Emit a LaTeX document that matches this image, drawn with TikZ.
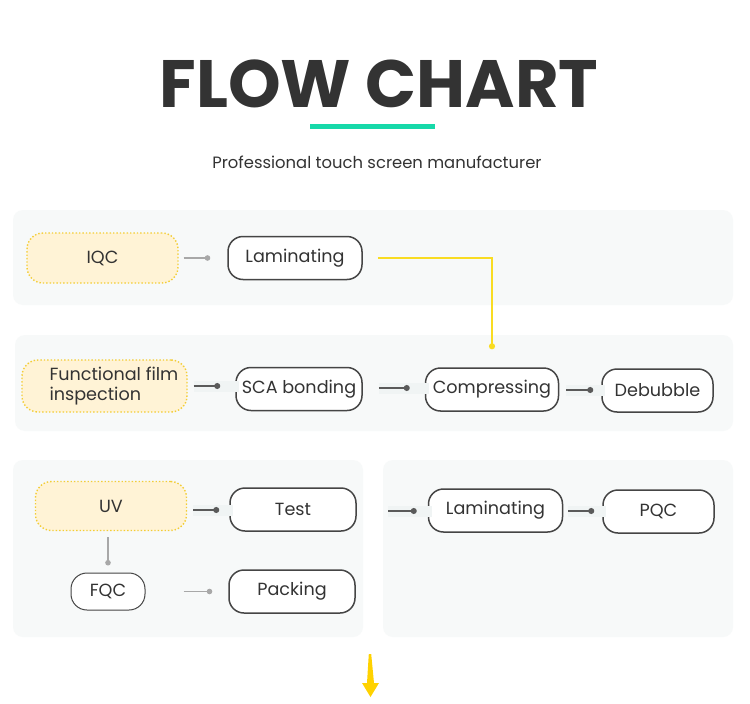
\documentclass[tikz,border=0pt]{standalone}
\usepackage{fontspec}
\setmainfont{Poppins}
\usetikzlibrary{arrows.meta}
\definecolor{textc}{HTML}{333333}
\definecolor{panelc}{HTML}{F7F9F9}
\definecolor{bordc}{HTML}{454545}
\definecolor{ybord}{HTML}{F3CD36}
\definecolor{yfill}{HTML}{FFF3D6}
\definecolor{ylinec}{HTML}{F9DC22}
\definecolor{arrowc}{HTML}{FFD200}
\definecolor{tealc}{HTML}{16D9A9}
\definecolor{conndark}{HTML}{5A5A5A}
\definecolor{connlight}{HTML}{A8A8A8}
\definecolor{stripc}{HTML}{F0F4F4}
\tikzset{
  panel/.style={fill=panelc, draw=none, rounded corners=10pt},
  stepbox/.style={draw=bordc, line width=1.5pt, fill=white, rounded corners=15pt,
    inner sep=0pt, text=textc, font=\fontsize{17.6}{21}\selectfont},
  ybox/.style={draw=ybord, line width=1.4pt, dotted, fill=yfill, rounded corners=16pt,
    inner sep=0pt, text=textc, font=\fontsize{17.6}{21}\selectfont},
  conn/.style={draw=conndark, line width=1.2pt, -{Circle[length=6pt]}},
  connl/.style={draw=connlight, line width=1.1pt, -{Circle[length=5.5pt]}},
  strip/.style={preaction={draw=stripc, line width=11pt, -, shorten >=-4pt}},
}
\begin{document}
\begin{tikzpicture}[x=1pt,y=-1pt]
\useasboundingbox (0,0) rectangle (750,704);
\fill[white] (0,0) rectangle (750,704);

% title
\node[text=textc, font=\bfseries\fontsize{67}{70}\selectfont] (title) at (379,84) {FLOW CHART};
\fill[tealc] (310,124) rectangle (435,129);
\node[text=textc, font=\fontsize{16.4}{19}\selectfont] (subtitle) at (377,162) {Professional touch screen manufacturer};

% panels
\fill[panel] (13,210) rectangle (733,305);
\fill[panel] (15,335) rectangle (733,431);
\fill[panel] (13,460) rectangle (363,637);
\fill[panel] (383,460) rectangle (733,637);

% row 1
\node[ybox, minimum width=151pt, minimum height=50pt] (iqc) at (102.5,258) {IQC};
\node[stepbox, minimum width=134pt, minimum height=43pt] (lam1) at (295,258) {Laminating};

% row 2
\node[ybox, minimum width=165pt, minimum height=52pt] (ffi) at (104.5,386) {};
\node[anchor=west, align=left, inner sep=0pt, text=textc, font=\fontsize{17.6}{20.5}\selectfont] (ffitext) at ([xshift=28pt]ffi.west) {Functional film\\inspection};
\node[stepbox, minimum width=126pt, minimum height=43pt] (sca) at (299,389) {SCA bonding};
\node[stepbox, minimum width=133pt, minimum height=43pt] (comp) at (492,389.5) {Compressing};
\node[stepbox, minimum width=111pt, minimum height=43pt] (deb) at (657.5,390.5) {Debubble};

% row 3 left
\node[ybox, minimum width=151pt, minimum height=49pt] (uv) at (111,506) {UV};
\node[stepbox, minimum width=126pt, minimum height=43pt] (test) at (293,509.5) {Test};
\node[stepbox, line width=1pt, rounded corners=16pt, minimum width=74pt, minimum height=37pt] (fqc) at (108,591.5) {FQC};
\node[stepbox, minimum width=126pt, minimum height=43pt] (pack) at (292,591.5) {Packing};

% row 3 right
\coordinate (lam2in) at (388,511);
\node[stepbox, minimum width=134pt, minimum height=43pt] (lam2) at (495.5,510.5) {Laminating};
\node[stepbox, minimum width=111pt, minimum height=43pt] (pqc) at (658.5,511.5) {PQC};

% connectors
\draw[connl, shorten <=5pt, shorten >=17pt] (iqc.east) -- (iqc.east -| lam1.west);
\draw[color=ylinec, line width=2pt, -{Circle[length=6pt]}, shorten <=15pt, shorten >=18pt] (lam1.east) -| (comp.north);
\draw[conn, strip, shorten <=6pt, shorten >=15pt] (ffi.east) -- (ffi.east -| sca.west);
\draw[conn, strip, shorten <=16pt, shorten >=15pt] (sca.east |- 0,388) -- (comp.west |- 0,388);
\draw[conn, strip, shorten <=7pt, shorten >=8pt] (comp.east |- 0,390) -- (deb.west |- 0,390);
\draw[conn, strip, shorten <=6pt, shorten >=10pt] (uv.east |- 0,510) -- (test.west |- 0,510);
\draw[connl, shorten <=6pt, shorten >=7pt] (uv.south -| fqc.north) -- (fqc.north);
\draw[connl, shorten <=38pt, shorten >=16pt] (fqc.east) -- (fqc.east -| pack.west);
\draw[conn, strip, shorten >=11pt] (lam2in) -- (lam2in -| lam2.west);
\draw[conn, strip, shorten <=5pt, shorten >=8pt] (lam2.east |- 0,511) -- (pqc.west |- 0,511);

% bottom arrow
\fill[arrowc] (368.8,654) -- (371.2,654) -- (374,683) -- (379,683) -- (370.5,697) -- (362,683) -- (367,683) -- cycle;
\end{tikzpicture}
\end{document}
